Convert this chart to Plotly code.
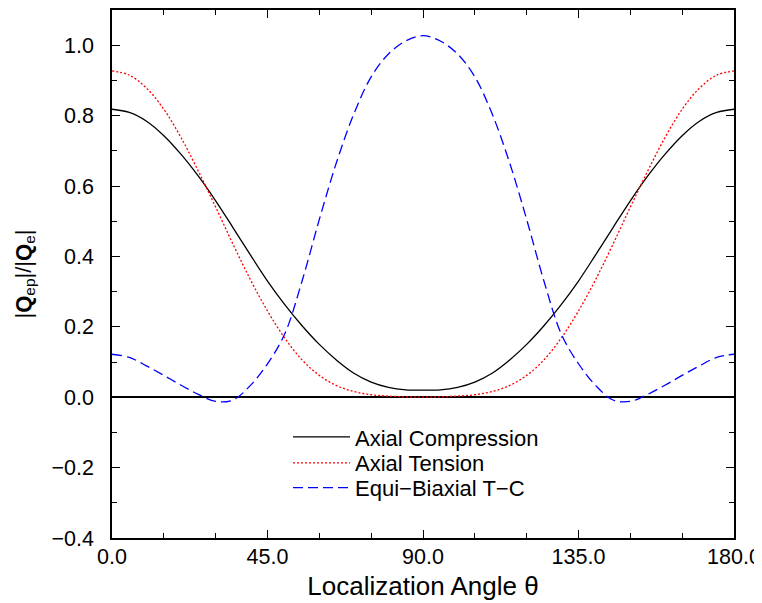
import plotly.graph_objects as go

theta = [0, 5, 10, 15, 20, 25, 30, 35, 40, 45, 50, 55, 60, 65, 70, 75, 80, 85, 90,
         95, 100, 105, 110, 115, 120, 125, 130, 135, 140, 145, 150, 155, 160, 165, 170, 175, 180]

axial_compression = [0.818, 0.809, 0.784, 0.743, 0.69, 0.628, 0.558, 0.482, 0.405, 0.33,
                     0.263, 0.203, 0.15, 0.105, 0.068, 0.043, 0.028, 0.021, 0.02,
                     0.021, 0.028, 0.043, 0.068, 0.105, 0.15, 0.203, 0.263, 0.33,
                     0.405, 0.482, 0.558, 0.628, 0.69, 0.743, 0.784, 0.809, 0.818]

axial_tension = [0.927, 0.915, 0.878, 0.818, 0.737, 0.642, 0.54, 0.435, 0.335, 0.245,
                 0.168, 0.106, 0.062, 0.033, 0.016, 0.007, 0.003, 0.001, 0.0,
                 0.001, 0.003, 0.007, 0.016, 0.033, 0.062, 0.106, 0.168, 0.245,
                 0.335, 0.435, 0.54, 0.642, 0.737, 0.818, 0.878, 0.915, 0.927]

equi_biaxial = [0.122, 0.113, 0.089, 0.062, 0.034, 0.008, -0.012, -0.008, 0.033, 0.095,
                0.18, 0.33, 0.505, 0.668, 0.805, 0.91, 0.975, 1.012, 1.027,
                1.012, 0.975, 0.91, 0.805, 0.668, 0.505, 0.33, 0.18, 0.095,
                0.033, -0.008, -0.012, 0.008, 0.034, 0.062, 0.089, 0.113, 0.122]

x_tickvals = [0, 45, 90, 135, 180]
x_ticktext = ["0.0", "45.0", "90.0", "135.0", "180.0"]
y_tickvals = [-0.4, -0.2, 0.0, 0.2, 0.4, 0.6, 0.8, 1.0]
y_ticktext = ["\u22120.4", "\u22120.2", "0.0", "0.2", "0.4", "0.6", "0.8", "1.0"]

FONT = "Liberation Sans, Arial, sans-serif"

fig = go.Figure()
fig.add_trace(go.Scatter(x=theta, y=axial_compression, mode="lines", name="Axial Compression",
                         legend="legend",
                         line=dict(color="black", width=1.3, shape="spline")))
fig.add_trace(go.Scatter(x=theta, y=axial_tension, mode="lines", name="Axial Tension",
                         legend="legend2",
                         line=dict(color="#ff0000", width=1.3, dash="2px,2px", shape="spline")))
fig.add_trace(go.Scatter(x=theta, y=equi_biaxial, mode="lines", name="Equi\u2212Biaxial T\u2212C",
                         legend="legend3",
                         line=dict(color="#0000ff", width=1.3, dash="10px,5px", shape="spline")))

leg_common = dict(x=0.283, xanchor="left", yanchor="middle", bgcolor="rgba(0,0,0,0)",
                  font=dict(size=22, family=FONT), itemwidth=57)

fig.update_layout(
    width=754, height=595,
    margin=dict(l=104, r=28, t=2, b=65, autoexpand=False),
    plot_bgcolor="white", paper_bgcolor="white",
    font=dict(family=FONT, color="black"),
    showlegend=True,
    legend=dict(y=0.191, **leg_common),
    legend2=dict(y=0.142, **leg_common),
    legend3=dict(y=0.095, **leg_common),
)
fig.update_xaxes(
    range=[0, 180], tickmode="array", tickvals=x_tickvals, ticktext=x_ticktext,
    ticks="inside", ticklen=8, tickwidth=1.2, tickcolor="black",
    minor=dict(dtick=15, ticks="inside", ticklen=5, tickwidth=1, tickcolor="black"),
    showline=True, linecolor="black", linewidth=1.5, mirror="ticks",
    showgrid=False, zeroline=False, automargin=False,
    tickfont=dict(size=21.5, family=FONT), ticklabelstandoff=-2,
    title=dict(text="Localization Angle \u03b8", font=dict(size=26, family=FONT), standoff=9),
)
fig.update_yaxes(
    range=[-0.4, 1.1], tickmode="array", tickvals=y_tickvals, ticktext=y_ticktext,
    ticks="inside", ticklen=8, tickwidth=1.2, tickcolor="black",
    minor=dict(dtick=0.1, tick0=0, ticks="inside", ticklen=5, tickwidth=1, tickcolor="black"),
    showline=True, linecolor="black", linewidth=1.5, mirror="ticks",
    showgrid=False, zeroline=True, zerolinecolor="black", zerolinewidth=1.5,
    automargin=False,
    tickfont=dict(size=21.5, family=FONT), ticklabelstandoff=12,
    title=dict(text="|<b>Q</b><sub>ep</sub>|/|<b>Q</b><sub>e</sub>|", font=dict(size=22, family=FONT), standoff=14),
)

fig.write_html("out.html")
